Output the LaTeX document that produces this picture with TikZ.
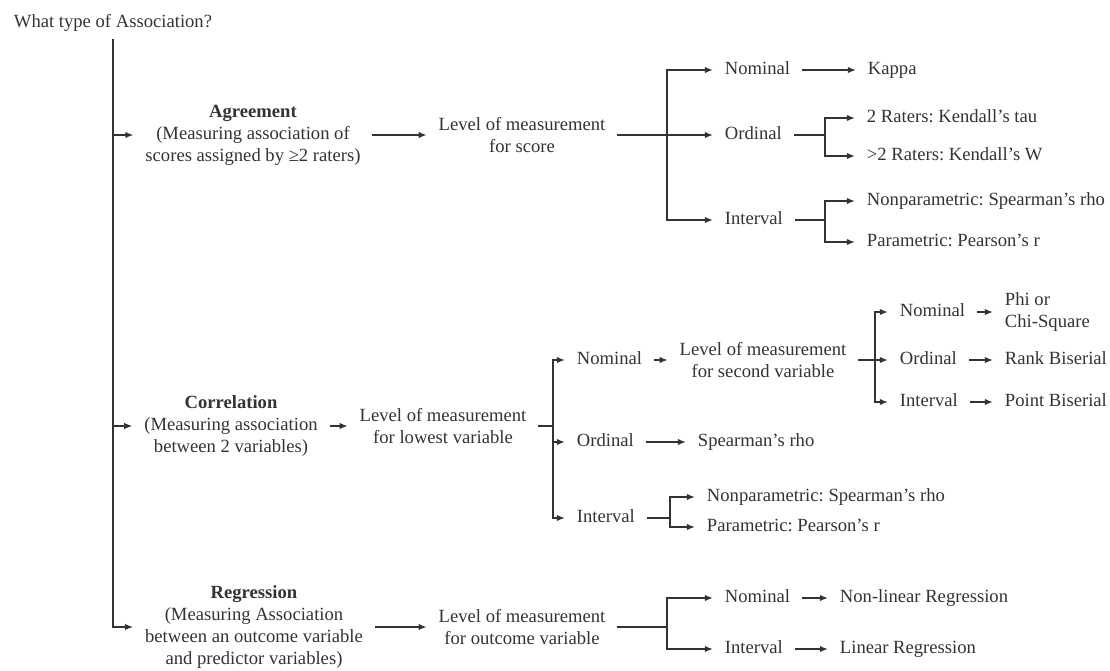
\documentclass[tikz,border=0pt]{standalone}
\usepackage{xcolor}
\usepackage{fontspec}
\setmainfont{Liberation Serif}
\usepackage{tikz}
\usetikzlibrary{arrows.meta}
\frenchspacing
\tikzset{
  assoc-text/.style={text=black!80, font=\fontsize{15.9}{18.7}\selectfont, inner xsep=10pt, inner ysep=2pt},
  assoc-label/.style={assoc-text, anchor=west, text height=11pt, text depth=3.5pt},
  assoc-block/.style={assoc-text, align=center},
  assoc-link/.style={draw=black!80, line width=1.25pt}
}

\begin{document}
\begin{tikzpicture}[x=0.03cm, y=-0.03cm, >={Latex[length=7pt,width=5.5pt]}]
  \useasboundingbox (0,0) rectangle (1110,671);
  \node[assoc-block, inner ysep=6pt] (what) at (113,23) {What type of Association?};
  \node[assoc-block] (agr) at (253,135) {\textbf{Agreement}\\(Measuring association of\\scores assigned by ≥2 raters)};
  \node[assoc-block] (agrLvl) at (522,135) {Level of measurement\\for score};
  \coordinate (agrFork) at (667,135);
  \node[assoc-label] (agrNom) at (713,70) {Nominal};
  \node[assoc-label] (agrKap) at (856,70) {Kappa};
  \node[assoc-label] (agrOrd) at (713,135) {Ordinal};
  \coordinate (agrOrdFork) at (825,135);
  \node[assoc-label] (agrTau) at (855,118) {2 Raters: Kendall's tau};
  \node[assoc-label] (agrW) at (855,156) {>2 Raters: Kendall's W};
  \node[assoc-label] (agrInt) at (713,220) {Interval};
  \coordinate (agrIntFork) at (825,220);
  \node[assoc-label] (agrNP) at (855,201) {Nonparametric: Spearman's rho};
  \node[assoc-label] (agrP) at (855,242) {Parametric: Pearson's r};
  \node[assoc-block] (cor) at (231,426) {\textbf{Correlation}\\(Measuring association\\between 2 variables)};
  \node[assoc-block] (corLvl) at (443,426) {Level of measurement\\for lowest variable};
  \coordinate (corFork) at (553,426);
  \node[assoc-label] (corNom) at (565,360) {Nominal};
  \node[assoc-block] (corLvl2) at (763,360) {Level of measurement\\for second variable};
  \coordinate (corNomFork) at (875,360);
  \node[assoc-label] (corNom2) at (888,312) {Nominal};
  \node[assoc-block, anchor=west, align=left] (corPhi) at (993,312) {Phi or\\Chi-Square};
  \node[assoc-label] (corOrd2) at (888,360) {Ordinal};
  \node[assoc-label] (corRank) at (993,360) {Rank Biserial};
  \node[assoc-label] (corInt2) at (888,402) {Interval};
  \node[assoc-label] (corPoint) at (993,402) {Point Biserial};
  \node[assoc-label] (corOrd) at (565,442) {Ordinal};
  \node[assoc-label] (corSp) at (686,442) {Spearman's rho};
  \node[assoc-label] (corInt) at (565,518) {Interval};
  \coordinate (corIntFork) at (670,518);
  \node[assoc-label] (corNP) at (695,497) {Nonparametric: Spearman's rho};
  \node[assoc-label] (corP) at (695,527) {Parametric: Pearson's r};
  \node[assoc-block] (reg) at (254,627) {\textbf{Regression}\\(Measuring Association\\between an outcome variable\\and predictor variables)};
  \node[assoc-block] (regLvl) at (522,627) {Level of measurement\\for outcome variable};
  \coordinate (regFork) at (667,627);
  \node[assoc-label] (regNom) at (713,598) {Nominal};
  \node[assoc-label] (regNL) at (828,598) {Non-linear Regression};
  \node[assoc-label] (regInt) at (713,649) {Interval};
  \node[assoc-label] (regLin) at (828,649) {Linear Regression};
  \draw[assoc-link, ->] (what.south) |- (reg.west);
  \draw[assoc-link, ->] (what.south |- agr.west) -- (agr.west);
  \draw[assoc-link, ->] (what.south |- cor.west) -- (cor.west);
  \draw[assoc-link, ->] (agr.east) -- (agrLvl.west);
  \draw[assoc-link, ->] (agrLvl.east) -- (agrOrd.west);
  \draw[assoc-link, ->] (agrFork) |- (agrNom.west);
  \draw[assoc-link, ->] (agrFork) |- (agrInt.west);
  \draw[assoc-link, ->] (agrNom.east) -- (agrKap.west);
  \draw[assoc-link] (agrOrd.east) -- (agrOrdFork);
  \draw[assoc-link, ->] (agrOrdFork) |- (agrTau.west);
  \draw[assoc-link, ->] (agrOrdFork) |- (agrW.west);
  \draw[assoc-link] (agrInt.east) -- (agrIntFork);
  \draw[assoc-link, ->] (agrIntFork) |- (agrNP.west);
  \draw[assoc-link, ->] (agrIntFork) |- (agrP.west);
  \draw[assoc-link, ->] (cor.east) -- (corLvl.west);
  \draw[assoc-link] (corLvl.east) -- (corFork);
  \draw[assoc-link, ->] (corFork) |- (corNom.west);
  \draw[assoc-link, ->] (corFork) |- (corOrd.west);
  \draw[assoc-link, ->] (corFork) |- (corInt.west);
  \draw[assoc-link, ->] (corNom.east) -- (corLvl2.west);
  \draw[assoc-link, ->] (corLvl2.east) -- (corOrd2.west);
  \draw[assoc-link, ->] (corNomFork) |- (corNom2.west);
  \draw[assoc-link, ->] (corNomFork) |- (corInt2.west);
  \draw[assoc-link, ->] (corNom2.east) -- (corPhi.west);
  \draw[assoc-link, ->] (corOrd2.east) -- (corRank.west);
  \draw[assoc-link, ->] (corInt2.east) -- (corPoint.west);
  \draw[assoc-link, ->] (corOrd.east) -- (corSp.west);
  \draw[assoc-link] (corInt.east) -- (corIntFork);
  \draw[assoc-link, ->] (corIntFork) |- (corNP.west);
  \draw[assoc-link, ->] (corIntFork) |- (corP.west);
  \draw[assoc-link, ->] (reg.east) -- (regLvl.west);
  \draw[assoc-link] (regLvl.east) -- (regFork);
  \draw[assoc-link, ->] (regFork) |- (regNom.west);
  \draw[assoc-link, ->] (regFork) |- (regInt.west);
  \draw[assoc-link, ->] (regNom.east) -- (regNL.west);
  \draw[assoc-link, ->] (regInt.east) -- (regLin.west);
\end{tikzpicture}
\end{document}
